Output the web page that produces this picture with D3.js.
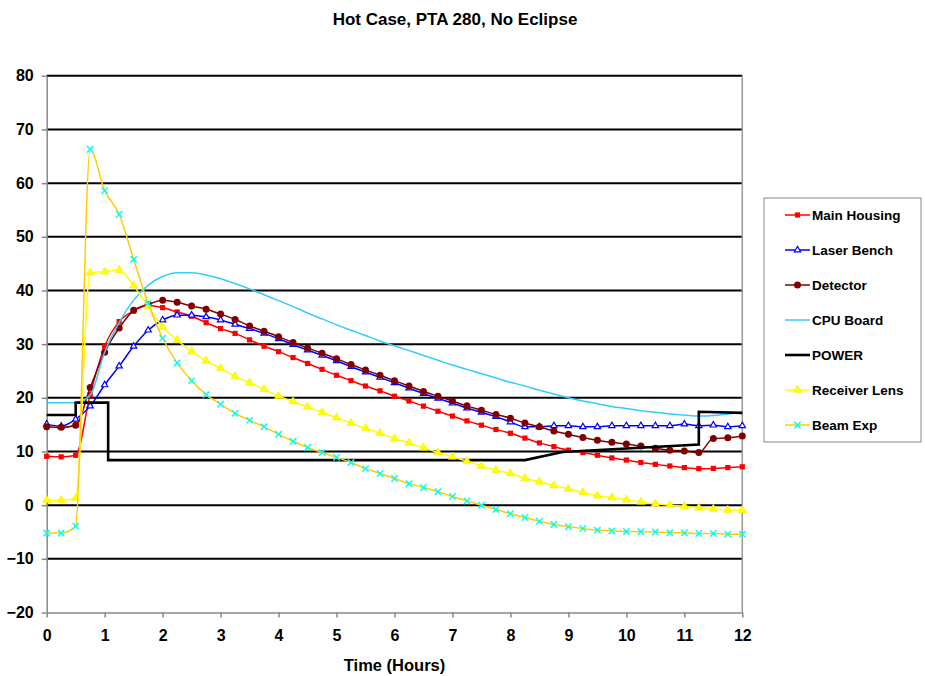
<!DOCTYPE html>
<html>
<head>
<meta charset="utf-8">
<script src="https://cdn.jsdelivr.net/npm/d3@7"></script>
<style>
body { margin: 0; background: #fff; }
text { font-family: "Liberation Sans", Arial, sans-serif; font-weight: bold; fill: #000; }
</style>
</head>
<body>
<svg id="chart" width="925" height="676"></svg>
<script>
// time axis, every quarter hour
var hours = [0, 0.25, 0.5, 0.75, 1, 1.25, 1.5, 1.75, 2, 2.25, 2.5, 2.75, 3, 3.25,
  3.5, 3.75, 4, 4.25, 4.5, 4.75, 5, 5.25, 5.5, 5.75, 6, 6.25, 6.5, 6.75, 7, 7.25,
  7.5, 7.75, 8, 8.25, 8.5, 8.75, 9, 9.25, 9.5, 9.75, 10, 10.25, 10.5, 10.75, 11,
  11.25, 11.5, 11.75, 12];

var mainHousing = [9.1, 9.0, 9.3, 20.6, 29.6, 34.2, 36.2, 37.2, 36.8, 36.0, 35.2, 34.0, 32.9, 32.0,
  30.8, 29.6, 28.6, 27.5, 26.4, 25.3, 24.2, 23.2, 22.2, 21.3, 20.3, 19.4, 18.45, 17.5, 16.6, 15.7,
  14.9, 14.1, 13.4, 12.5, 11.6, 10.9, 10.25, 9.8, 9.3, 8.8, 8.4, 7.95, 7.6, 7.3, 7.0,
  6.8, 6.85, 7.0, 7.15];

var laserBench = [15.1, 14.7, 16.0, 18.45, 22.4, 25.9, 29.6, 32.6, 34.5, 35.4, 35.4, 35.1, 34.5, 33.7,
  32.9, 32.0, 31.0, 29.9, 28.9, 27.9, 26.9, 25.8, 24.8, 23.8, 22.8, 21.8, 20.8, 19.9, 19.0, 18.1,
  17.3, 16.5, 15.5, 14.6, 14.6, 14.8, 14.8, 14.6, 14.6, 14.8, 14.8, 14.8, 14.8, 14.8, 15.1,
  14.8, 14.9, 14.6, 14.8];

var detector = [14.6, 14.5, 14.9, 21.9, 28.5, 33.0, 36.3, 37.4, 38.2, 37.8, 37.1, 36.5, 35.6, 34.6,
  33.4, 32.4, 31.4, 30.3, 29.3, 28.3, 27.3, 26.2, 25.2, 24.2, 23.2, 22.2, 21.2, 20.3, 19.4, 18.5,
  17.7, 16.9, 16.2, 15.3, 14.6, 13.8, 13.2, 12.6, 12.1, 11.7, 11.4, 11.0, 10.6, 10.25, 10.1,
  9.8, 12.4, 12.55, 12.9];

var cpuBoard = [19.1, 19.1, 19.1, 20.5, 28.5, 34.0, 38.2, 41.0, 42.6, 43.3, 43.3, 42.9, 42.2, 41.3,
  40.3, 39.2, 38.1, 37.0, 35.8, 34.7, 33.6, 32.6, 31.6, 30.6, 29.7, 28.8, 27.9, 27.0, 26.1, 25.3,
  24.5, 23.7, 22.9, 22.2, 21.4, 20.7, 20.0, 19.4, 18.9, 18.4, 18.0, 17.6, 17.3, 17.0, 16.8,
  16.6, 16.7, 17.0, 17.3];

var receiverLens = [0.93, 0.93, 1.25, 43.3, 43.5, 43.8, 40.9, 37.0, 33.2, 30.75, 28.6, 26.9, 25.5, 24.0,
  22.8, 21.6, 20.3, 19.3, 18.3, 17.3, 16.3, 15.3, 14.3, 13.4, 12.4, 11.6, 10.7, 9.8, 9.0, 8.2,
  7.3, 6.5, 5.9, 5.0, 4.35, 3.65, 3.05, 2.4, 1.75, 1.4, 1.0, 0.6, 0.25, 0.0, -0.2,
  -0.5, -0.7, -0.9, -0.95];

var beamExp = [-5.2, -5.2, -3.9, 66.3, 58.6, 54.2, 45.8, 37.6, 31.1, 26.5, 23.2, 20.6, 18.8, 17.1,
  15.8, 14.6, 13.2, 11.9, 10.75, 9.8, 8.9, 7.96, 6.8, 5.9, 4.97, 4.0, 3.3, 2.5, 1.6, 0.8,
  0.0, -0.8, -1.6, -2.3, -3.0, -3.6, -4.0, -4.35, -4.66, -4.8, -4.9, -4.95, -5.0, -5.15, -5.15,
  -5.28, -5.28, -5.4, -5.4];

// power is a step trace, its own time points
var powerHours = [0, 0.5, 0.5, 1.06, 1.06, 8.25, 8.9, 11.25, 11.25, 12];
var powerValues = [16.8, 16.8, 19.1, 19.1, 8.4, 8.4, 9.9, 11.3, 17.4, 17.2];

var yTicks = [-20, -10, 0, 10, 20, 30, 40, 50, 60, 70, 80];
var xTicks = [0, 1, 2, 3, 4, 5, 6, 7, 8, 9, 10, 11, 12];
var seriesNames = ["Main Housing", "Laser Bench", "Detector", "CPU Board", "POWER", "Receiver Lens", "Beam Exp"];

var svg = d3.select("#chart");

var xScale = d3.scaleLinear().domain([0, 12]).range([46.7, 742.3]);
var yScale = d3.scaleLinear().domain([-20, 80]).range([612.5, 75.8]);

// title
svg.append("text")
    .attr("x", 455)
    .attr("y", 25)
    .style("text-anchor", "middle")
    .style("font-size", "17px")
    .text("Hot Case, PTA 280, No Eclipse");

// gridlines
svg.append("g")
    .selectAll("line")
    .data(yTicks.filter(d => d > -20))
    .enter()
    .append("line")
        .attr("x1", xScale(0))
        .attr("x2", xScale(12))
        .attr("y1", d => yScale(d))
        .attr("y2", d => yScale(d))
        .attr("stroke", "#000")
        .attr("stroke-width", 2);

// right border of the plot area
svg.append("line")
    .attr("x1", xScale(12)).attr("x2", xScale(12))
    .attr("y1", yScale(80)).attr("y2", yScale(-20))
    .attr("stroke", "#999").attr("stroke-width", 1.5);

var xAxis = d3.axisBottom(xScale).tickValues(xTicks).tickSize(5).tickSizeOuter(0).tickPadding(12);
var yAxis = d3.axisLeft(yScale).tickValues(yTicks).tickSize(5).tickSizeOuter(0).tickPadding(8);

var gx = svg.append("g")
    .attr("transform", `translate(0,${yScale(-20)})`)
    .call(xAxis);
var gy = svg.append("g")
    .attr("transform", `translate(${xScale(0)},0)`)
    .call(yAxis);

[gx, gy].forEach(function (g) {
    g.select(".domain").attr("stroke", "#888").attr("stroke-width", 1.5);
    g.selectAll(".tick line").attr("stroke", "#888").attr("stroke-width", 1.5);
    g.selectAll(".tick text")
        .style("font-family", '"Liberation Sans", Arial, sans-serif')
        .style("font-weight", "bold")
        .style("font-size", "16px")
        .attr("fill", "#000");
});

// axis title
svg.append("text")
    .attr("x", (xScale(0) + xScale(12)) / 2)
    .attr("y", 671)
    .style("text-anchor", "middle")
    .style("font-size", "16.5px")
    .text("Time (Hours)");

var series = [
    { name: seriesNames[0], values: mainHousing, line: "#FF0000", marker: "square", mfill: "#FF0000", mstroke: "#FF0000" },
    { name: seriesNames[1], values: laserBench, line: "#0000FF", marker: "otriangle", mfill: "#FFFFFF", mstroke: "#0000FF" },
    { name: seriesNames[2], values: detector, line: "#800000", marker: "circle", mfill: "#800000", mstroke: "#800000" },
    { name: seriesNames[3], values: cpuBoard, line: "#33CCFF", marker: null },
    { name: seriesNames[4], values: null, line: "#000000", marker: null },
    { name: seriesNames[5], values: receiverLens, line: "#FFFF00", marker: "triangle", mfill: "#FFFF00", mstroke: "#F2F200" },
    { name: seriesNames[6], values: beamExp, line: "#FFCC00", marker: "x", mfill: "none", mstroke: "#00FFFF" }
];

var smoothLine = d3.line()
    .x(d => xScale(d[0]))
    .y(d => yScale(d[1]))
    .curve(d3.curveMonotoneX);

var stepLine = d3.line()
    .x(d => xScale(d[0]))
    .y(d => yScale(d[1]));

function drawMarker(g, kind, fill, stroke) {
    if (kind === "square") {
        g.append("rect").attr("x", -2.6).attr("y", -2.6).attr("width", 5.2).attr("height", 5.2)
            .attr("fill", fill);
    } else if (kind === "circle") {
        g.append("circle").attr("r", 3.5).attr("fill", fill);
    } else if (kind === "otriangle") {
        g.append("path").attr("d", d3.symbol(d3.symbolTriangle, 17)())
            .attr("fill", fill).attr("stroke", stroke).attr("stroke-width", 1.2);
    } else if (kind === "triangle") {
        g.append("path").attr("d", d3.symbol(d3.symbolTriangle, 30)())
            .attr("fill", fill).attr("stroke", stroke).attr("stroke-width", 0.6);
    } else if (kind === "x") {
        g.append("path").attr("d", d3.symbol(d3.symbolX, 28)())
            .attr("fill", "none").attr("stroke", stroke).attr("stroke-width", 1.5);
    }
}

var plot = svg.append("g");

series.forEach(function (s) {
    var g = plot.append("g");
    if (s.values === null) {
        var pts = powerHours.map((h, i) => [h, powerValues[i]]);
        g.append("path")
            .attr("d", stepLine(pts))
            .attr("fill", "none")
            .attr("stroke", s.line)
            .attr("stroke-width", 2.6);
        return;
    }
    var pts = hours.map((h, i) => [h, s.values[i]]);
    g.append("path")
        .attr("d", smoothLine(pts))
        .attr("fill", "none")
        .attr("stroke", s.line)
        .attr("stroke-width", 1.5);
    if (s.marker) {
        g.selectAll("g.pt")
            .data(pts)
            .enter()
            .append("g")
                .attr("class", "pt")
                .attr("transform", d => `translate(${xScale(d[0])},${yScale(d[1])})`)
                .each(function () { drawMarker(d3.select(this), s.marker, s.mfill, s.mstroke); });
    }
});

// legend
var legend = svg.append("g").attr("transform", "translate(764,198)");
legend.append("rect")
    .attr("width", 157)
    .attr("height", 244)
    .attr("fill", "#fff")
    .attr("stroke", "#888")
    .attr("stroke-width", 1);

series.forEach(function (s, i) {
    var row = legend.append("g").attr("transform", `translate(0,${17 + i * 35})`);
    row.append("line")
        .attr("x1", 21).attr("x2", 46)
        .attr("stroke", s.line)
        .attr("stroke-width", s.values === null ? 2.6 : 1.5);
    if (s.marker) {
        var m = row.append("g").attr("transform", "translate(33.5,0)");
        drawMarker(m, s.marker, s.mfill, s.mstroke);
    }
    row.append("text")
        .attr("x", 48)
        .attr("y", 4.5)
        .style("font-size", "13.5px")
        .text(s.name);
});
</script>
</body>
</html>
